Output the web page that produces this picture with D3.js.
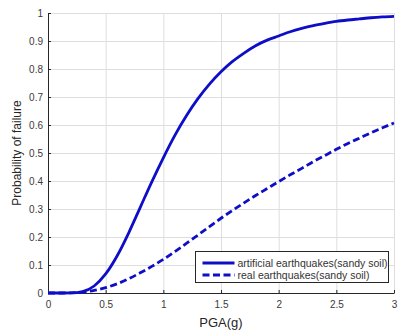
<!DOCTYPE html>
<html>
<head>
<meta charset="utf-8">
<script src="https://cdn.jsdelivr.net/npm/d3@7"></script>
<style>
  html, body { margin: 0; padding: 0; background: #fff; }
  svg { display: block; font-family: "Liberation Sans", Arial, Helvetica, sans-serif; }
</style>
</head>
<body>
<svg id="chart" width="409" height="336"></svg>
<script>
// Peak ground acceleration (g) at which the fragility curves are sampled
const pga = [0, 0.1, 0.2, 0.3, 0.4, 0.5, 0.6, 0.7, 0.8, 0.9, 1.0,
             1.1, 1.2, 1.3, 1.4, 1.5, 1.6, 1.7, 1.8, 1.9, 2.0,
             2.1, 2.2, 2.3, 2.4, 2.5, 2.6, 2.7, 2.8, 2.9, 3.0];

// Probability of failure, artificial earthquakes (sandy soil)
const artificialPf = [0, 0, 0.0003, 0.005, 0.025, 0.068, 0.133, 0.215, 0.306, 0.397, 0.483,
                      0.563, 0.633, 0.694, 0.746, 0.790, 0.827, 0.857, 0.883, 0.903, 0.918,
                      0.933, 0.945, 0.955, 0.963, 0.970, 0.975, 0.979, 0.983, 0.986, 0.988];

// Probability of failure, real earthquakes (sandy soil)
const realPf = [0, 0, 0.0005, 0.003, 0.009, 0.019, 0.033, 0.051, 0.072, 0.095, 0.120,
                0.148, 0.177, 0.207, 0.237, 0.267, 0.295, 0.322, 0.348, 0.373, 0.398,
                0.422, 0.445, 0.469, 0.491, 0.513, 0.534, 0.553, 0.572, 0.590, 0.607];

const xTicks = [0, 0.5, 1, 1.5, 2, 2.5, 3];
const yTicks = [0, 0.1, 0.2, 0.3, 0.4, 0.5, 0.6, 0.7, 0.8, 0.9, 1];

const seriesNames = ["artificial earthquakes(sandy soil)", "real earthquakes(sandy soil)"];

const margin = { left: 48, top: 13, right: 15, bottom: 43 };
const W = 409, H = 336;
const innerW = W - margin.left - margin.right;
const innerH = H - margin.top - margin.bottom;

const lineColor = "#0e0ec8";
const axisColor = "#262626";
const gridColor = "#dedede";

const svg = d3.select("#chart");
const g = svg.append("g").attr("transform", `translate(${margin.left},${margin.top})`);

const x = d3.scaleLinear().domain([0, 3]).range([0, innerW]);
const y = d3.scaleLinear().domain([0, 1]).range([innerH, 0]);

// grid
g.append("g").selectAll("line.vg").data(xTicks).join("line")
  .attr("x1", d => x(d) + 0.5).attr("x2", d => x(d) + 0.5)
  .attr("y1", 0).attr("y2", innerH)
  .attr("stroke", gridColor).attr("stroke-width", 1);
g.append("g").selectAll("line.hg").data(yTicks).join("line")
  .attr("x1", 0).attr("x2", innerW)
  .attr("y1", d => y(d) + 0.5).attr("y2", d => y(d) + 0.5)
  .attr("stroke", gridColor).attr("stroke-width", 1);

// axes
const xAxis = d3.axisBottom(x).tickValues(xTicks).tickSizeInner(-3).tickSizeOuter(0)
  .tickPadding(8).tickFormat(d3.format("~g"));
const yAxis = d3.axisLeft(y).tickValues(yTicks).tickSizeInner(-3).tickSizeOuter(0)
  .tickPadding(5).tickFormat(d3.format("~g"));

const gx = g.append("g").attr("transform", `translate(0,${innerH})`).call(xAxis);
const gy = g.append("g").call(yAxis);
[gx, gy].forEach(a => {
  a.select(".domain").attr("stroke", axisColor).attr("stroke-width", 1);
  a.selectAll(".tick line").attr("stroke", axisColor);
  a.selectAll(".tick text").attr("fill", "#3a3a3a").style("font-size", "10px")
    .style("font-family", "Liberation Sans, Arial, sans-serif");
});

// curves
const line = d3.line().x((d, i) => x(pga[i])).y(d => y(d)).curve(d3.curveMonotoneX);

g.append("path").datum(realPf)
  .attr("d", line).attr("fill", "none")
  .attr("stroke", lineColor).attr("stroke-width", 2.8)
  .attr("stroke-dasharray", "7,3.5");

g.append("path").datum(artificialPf)
  .attr("d", line).attr("fill", "none")
  .attr("stroke", lineColor).attr("stroke-width", 2.8);

// axis titles
svg.append("text")
  .attr("x", margin.left + innerW / 2).attr("y", 327)
  .attr("text-anchor", "middle").attr("fill", axisColor)
  .style("font-size", "13px").text("PGA(g)");

svg.append("text")
  .attr("transform", `translate(21,${margin.top + innerH / 2}) rotate(-90)`)
  .attr("text-anchor", "middle").attr("fill", axisColor)
  .style("font-size", "12px").text("Probability of failure");

// legend
const lg = svg.append("g").attr("transform", "translate(195.5,251.5)");
lg.append("rect").attr("width", 193).attr("height", 31)
  .attr("fill", "#fff").attr("stroke", axisColor).attr("stroke-width", 1);
seriesNames.forEach((name, i) => {
  const yy = 11.5 + i * 12;
  lg.append("line")
    .attr("x1", 7).attr("x2", 39).attr("y1", yy).attr("y2", yy)
    .attr("stroke", lineColor).attr("stroke-width", 2.8)
    .attr("stroke-dasharray", i === 1 ? "7,3.5" : null);
  lg.append("text")
    .attr("x", 42).attr("y", yy + 3.8)
    .attr("fill", "#333").style("font-size", "10.5px").text(name);
});
</script>
</body>
</html>
